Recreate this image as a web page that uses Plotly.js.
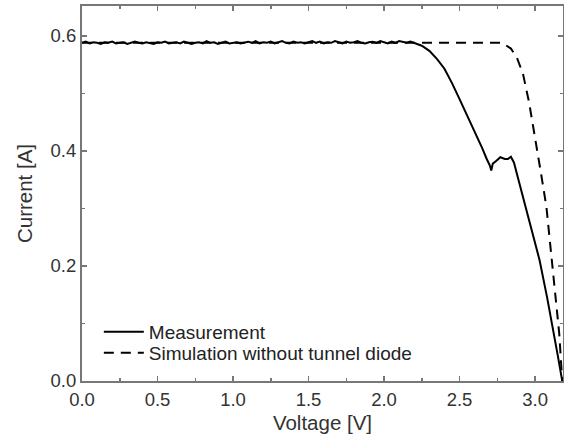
<!DOCTYPE html>
<html><head><meta charset="utf-8">
<script src="https://cdn.plot.ly/plotly-3.0.1.min.js"></script>
<style>html,body{margin:0;padding:0;background:#fff}</style>
</head><body><div id="chart" style="width:564px;height:441px"></div>
<script>
const measVoltage = [0.000,0.025,0.050,0.075,0.100,0.125,0.150,0.175,0.200,0.225,0.250,0.275,0.300,0.325,0.350,0.375,0.400,0.425,0.450,0.475,
  0.500,0.525,0.550,0.575,0.600,0.625,0.650,0.675,0.700,0.725,0.750,0.775,0.800,0.825,0.850,0.875,0.900,0.925,0.950,0.975,
  1.000,1.025,1.050,1.075,1.100,1.125,1.150,1.175,1.200,1.225,1.250,1.275,1.300,1.325,1.350,1.375,1.400,1.425,1.450,1.475,
  1.500,1.525,1.550,1.575,1.600,1.625,1.650,1.675,1.700,1.725,1.750,1.775,1.800,1.825,1.850,1.875,1.900,1.925,1.950,1.975,
  2.000,2.025,2.050,2.075,2.100,2.125,2.150,2.175,2.200,
  2.25,2.30,2.35,2.40,2.45,2.50,2.55,2.60,2.65,2.68,2.70,2.71,2.72,2.74,2.77,2.80,2.82,2.84,2.86,2.88,2.90,2.94,2.98,3.03,3.08,3.12,3.15,3.18];
const measCurrent = [0.588,0.590,0.587,0.589,0.588,0.586,0.589,0.588,0.590,0.587,0.588,0.589,0.586,0.588,0.590,0.588,0.587,0.589,0.588,0.586,
  0.589,0.588,0.590,0.587,0.588,0.589,0.587,0.590,0.588,0.586,0.588,0.589,0.587,0.591,0.588,0.589,0.586,0.588,0.590,0.587,
  0.588,0.589,0.587,0.588,0.590,0.588,0.591,0.587,0.589,0.588,0.590,0.587,0.589,0.591,0.588,0.587,0.590,0.588,0.589,0.587,
  0.589,0.591,0.588,0.590,0.587,0.589,0.588,0.591,0.589,0.587,0.590,0.588,0.589,0.591,0.588,0.587,0.589,0.590,0.588,0.591,
  0.589,0.587,0.590,0.588,0.591,0.589,0.588,0.590,0.588,
  0.583,0.574,0.560,0.543,0.518,0.490,0.462,0.435,0.405,0.386,0.375,0.366,0.378,0.382,0.389,0.386,0.386,0.390,0.380,0.360,0.340,0.305,0.265,0.210,0.145,0.090,0.045,0.000];
const simVoltage = [0.00,2.78,2.80,2.84,2.88,2.92,2.96,3.00,3.04,3.075,3.11,3.13,3.16,3.18];
const simCurrent = [0.588,0.588,0.585,0.578,0.562,0.534,0.485,0.425,0.360,0.303,0.215,0.165,0.083,0.000];
const xTickVals = [0,0.5,1,1.5,2,2.5,3];
const xTickText = ["0.0","0.5","1.0","1.5","2.0","2.5","3.0"];
const yTickVals = [0,0.2,0.4,0.6];
const yTickText = ["0.0","0.2","0.4","0.6"];

const fam = "Liberation Sans, Arial, sans-serif";
const tickFont = {family:fam, size:18.5, color:"#333"};
const titleFont = {family:fam, size:20.5, color:"#333"};
const legendFont = {family:fam, size:19, color:"#222"};
const axisCommon = {
  showline:true, linecolor:"#777", linewidth:2, mirror:"ticks",
  ticks:"inside", ticklen:5, tickwidth:1.5, tickcolor:"#777",
  showgrid:false, zeroline:false, tickfont:tickFont,
};
const traces = [
  {x:measVoltage, y:measCurrent, mode:"lines", name:"Measurement", legend:"legend",
   line:{color:"#000", width:2}},
  {x:simVoltage, y:simCurrent, mode:"lines", name:"Simulation without tunnel diode", legend:"legend2",
   line:{color:"#000", width:2, dash:"10px,7px"}}
];
const legBase = {xanchor:"left", yanchor:"middle", bgcolor:"rgba(0,0,0,0)", font:legendFont, itemwidth:40};
const layout = {
  width:564, height:441,
  margin:{l:82, r:1, t:6, b:60},
  paper_bgcolor:"#fff", plot_bgcolor:"#fff",
  font:tickFont,
  showlegend:true,
  legend:Object.assign({}, legBase, {x:0.035, y:0.131}),
  legend2:Object.assign({}, legBase, {x:0.035, y:0.075}),
  xaxis:Object.assign({}, axisCommon, {range:[0,3.185], tickvals:xTickVals, ticktext:xTickText,
     ticklabelstandoff:1,
     title:{text:"Voltage [V]", font:titleFont, standoff:6},
     minor:{dtick:0.25, ticklen:3, tickcolor:"#777", ticks:"inside"}}),
  yaxis:Object.assign({}, axisCommon, {range:[0,0.652], tickvals:yTickVals, ticktext:yTickText,
     title:{text:"Current [A]", font:titleFont, standoff:12},
     minor:{dtick:0.1, ticklen:3, tickcolor:"#777", ticks:"inside"}})
};
Plotly.newPlot("chart", traces, layout, {staticPlot:true, displayModeBar:false});
</script></body></html>
